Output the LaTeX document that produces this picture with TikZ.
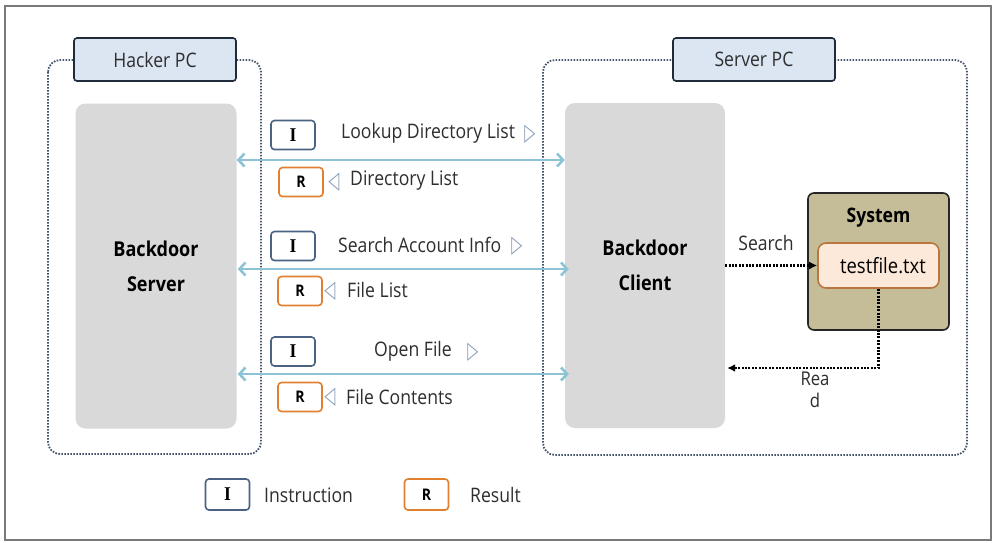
\documentclass[tikz,border=0pt]{standalone}
\usepackage{fontspec}
\setmainfont{Open Sans}[FakeStretch=0.88]
\newfontfamily\serifbold{Liberation Serif}[FakeStretch=0.9]
\newfontfamily\symfont{DejaVu Sans}[FakeStretch=0.6]
\usetikzlibrary{arrows.meta}
\definecolor{framec}{HTML}{7A7A7A}
\definecolor{contc}{HTML}{44546A}
\definecolor{labfill}{HTML}{DCE6F2}
\definecolor{labdraw}{HTML}{1F2A3A}
\definecolor{boxgray}{HTML}{D9D9D9}
\definecolor{linkc}{HTML}{8CC4D6}
\definecolor{ibord}{HTML}{4A6385}
\definecolor{rbord}{HTML}{E2802F}
\definecolor{txtc}{HTML}{2E2E2E}
\definecolor{tric}{HTML}{8A9DB5}
\definecolor{sysfill}{HTML}{C4BD97}
\definecolor{sysdraw}{HTML}{262626}
\definecolor{tffill}{HTML}{FDE9D9}
\definecolor{tfdraw}{HTML}{B9773F}
\begin{document}
\begin{tikzpicture}[x=1pt,y=-1pt,
  every node/.style={inner sep=0pt, text=txtc},
  cont/.style={draw=contc, line width=1.8pt, dash pattern=on 1.6pt off 1.4pt, rounded corners=12pt},
  pclabel/.style={draw=labdraw, fill=labfill, line width=1.6pt, rounded corners=3pt,
    minimum width=162pt, minimum height=43pt, font=\fontsize{20}{22}\selectfont},
  graybox/.style={fill=boxgray, rounded corners=10pt, minimum width=161pt, minimum height=325pt,
    align=center, font=\bfseries\fontsize{20.5}{35}\selectfont, text=black},
  link/.style={draw=linkc, line width=2.6pt, {Straight Barb[length=6pt,width=13pt]}-{Straight Barb[length=6pt,width=13pt]}},
  ibox/.style={draw=ibord, fill=white, line width=1.6pt, rounded corners=3.5pt,
    minimum width=44pt, minimum height=29pt, font=\serifbold\bfseries\fontsize{19.5}{20}\selectfont, text=black},
  rbox/.style={draw=rbord, fill=white, line width=1.6pt, rounded corners=3.5pt,
    minimum width=44pt, minimum height=29pt, font=\bfseries\fontsize{16}{18}\selectfont, text=black},
  lab/.style={font=\fontsize{20}{22}\selectfont, anchor=west},
  tri/.style={font=\symfont\fontsize{24}{26}\selectfont, text=tric},
  dotarrow/.style={draw=black, line width=2.2pt, dash pattern=on 2pt off 1.4pt, -{Latex[length=8pt,width=8pt]}}
]
\useasboundingbox (0,0) rectangle (996,542);
\fill[white] (0,0) rectangle (996,542);
\draw[framec, line width=2pt] (5,6) rectangle (991,540);

% containers
\draw[cont] (48,60) rectangle (261,454);
\draw[cont] (543,60) rectangle (967,455);
\node[pclabel] (hpc) at (155,59.5) {Hacker PC};
\node[pclabel] (spc) at (754,59.5) {Server PC};

% main boxes
\node[graybox] (srv) at (156,266) {Backdoor\\Server};
\node[graybox, minimum width=160pt] (cli) at (645,265.5) {Backdoor\\Client};

% system
\node[fill=sysfill, draw=sysdraw, line width=1.6pt, rounded corners=6pt,
  minimum width=141pt, minimum height=137pt] (sys) at (878.5,261.5) {};
\node[font=\bfseries\fontsize{20}{22}\selectfont, text=black] (systxt) at (878.5,218) {System};
\node[fill=tffill, draw=tfdraw, line width=1.6pt, rounded corners=8pt,
  minimum width=121pt, minimum height=45pt, font=\fontsize{21}{22}\selectfont, text=black] (tf) at (878.5,265.5) {\hspace*{9pt}testfile.txt};

% links
\draw[link] (srv.east |- 0,160) -- (cli.west |- 0,160);
\draw[link] ([xshift=1pt]srv.east |- 0,269) -- ([xshift=4pt]cli.west |- 0,269);
\draw[link] ([xshift=1pt]srv.east |- 0,374) -- ([xshift=4pt]cli.west |- 0,374);

% set 1
\node[ibox] (i1) at (293,135) {I};
\node[lab] (t1) at (341,133) {Lookup Directory List};
\node[tri] (tr1) at (530,134) {▷};
\node[rbox] (r1) at (301,182) {R};
\node[tri] (tl1) at (334,182) {◁};
\node[lab] (t2) at (350,181) {Directory List};

% set 2
\node[ibox] (i2) at (293,246) {I};
\node[lab] (t3) at (338,245) {Search Account Info};
\node[tri] (tr2) at (517,246) {▷};
\node[rbox] (r2) at (300,291) {R};
\node[tri] (tl2) at (330,291) {◁};
\node[lab] (t4) at (347,290) {File List};

% set 3
\node[ibox] (i3) at (293,351.5) {I};
\node[lab] (t5) at (374,351) {Open File};
\node[tri] (tr3) at (473,352) {▷};
\node[rbox] (r3) at (300,397) {R};
\node[tri] (tl3) at (330,397) {◁};
\node[lab] (t6) at (346,397) {File Contents};

% search / read
\draw[dotarrow] (cli.east |- tf.west) -- (tf.west);
\node[font=\fontsize{20}{22}\selectfont] (search) at (766,243) {Search};
\coordinate (rd) at (tf.south |- 0,368);
\draw[dotarrow] (tf.south) -- (rd) -- ([xshift=2pt]cli.east |- rd);
\node[font=\fontsize{19}{22}\selectfont, align=center] (read) at (815,390) {Rea\\d};

% legend
\node[ibox, minimum height=31pt] (li) at (227.5,494.5) {I};
\node[lab] (lit) at (264,495) {Instruction};
\node[rbox, minimum height=31pt] (lr) at (426.5,494.5) {R};
\node[lab] (lrt) at (470,495) {Result};
\end{tikzpicture}
\end{document}
